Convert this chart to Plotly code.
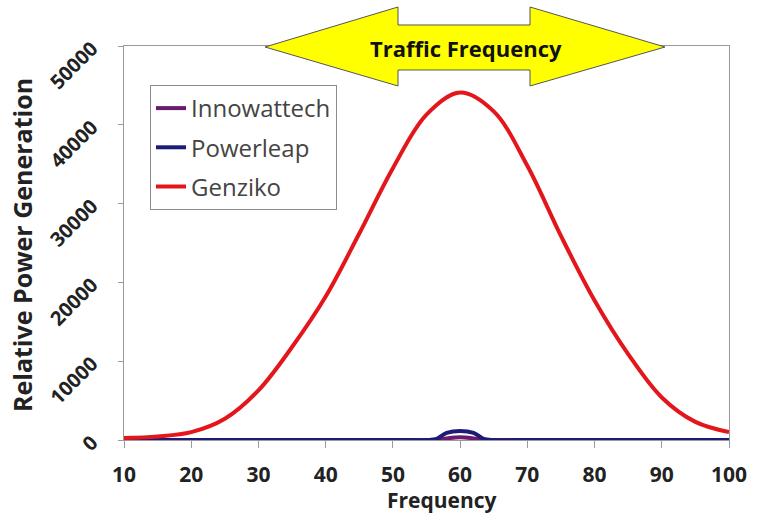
import plotly.graph_objects as go

# ---- data ----
freq = [10, 15, 20, 25, 30, 35, 40, 45, 50, 55, 60, 65, 70, 75, 80, 85, 90, 95, 100]
genziko = [250, 450, 1000, 2700, 6300, 11800, 18200, 26200, 34500, 41300, 44100,
           41700, 34800, 25900, 17700, 10900, 5400, 2300, 1000]

freq_fine = [10, 20, 30, 40, 50, 55, 56.5, 58, 60, 62, 63.5, 65, 70, 80, 90, 100]
powerleap = [0, 0, 0, 0, 0, 0, 150, 900, 1150, 900, 150, 0, 0, 0, 0, 0]
innowattech = [0, 0, 0, 0, 0, 0, 0, 200, 350, 200, 0, 0, 0, 0, 0, 0]

series_names = ["Innowattech", "Powerleap", "Genziko"]
series_colors = ["#6a1b6e", "#1c1c78", "#e3161c"]

x_ticks = [10, 20, 30, 40, 50, 60, 70, 80, 90, 100]
y_ticks = [0, 10000, 20000, 30000, 40000, 50000]

# ---- layout geometry (pixels) ----
W, H = 757, 516
L, R, T, B = 124, 28, 46, 76
PW, PH = W - L - R, H - T - B
FONT = "Open Sans"


def px(x, y):
    return (x - L) / PW, (H - B - y) / PH


fig = go.Figure()
xs = [freq_fine, freq_fine, freq]
ys = [innowattech, powerleap, genziko]
for i, (name, col) in enumerate(zip(series_names, series_colors)):
    fig.add_trace(go.Scatter(
        x=xs[i], y=ys[i], name=name, mode="lines",
        line=dict(color=col, width=4, shape="spline", smoothing=1.0),
        legendgroup=name, cliponaxis=False,
    ))

# yellow double arrow
pts = [(265, 47), (398, 7), (398, 25), (530, 25), (530, 7), (665, 47),
       (530, 86), (530, 70), (398, 70), (398, 86)]
path = "M " + " L ".join(f"{px(a, b)[0]:.4f},{px(a, b)[1]:.4f}" for a, b in pts) + " Z"
fig.add_shape(type="path", path=path, xref="paper", yref="paper",
              fillcolor="#ffff00", line=dict(color="#555555", width=1))

tx, ty = px(466, 48)
fig.add_annotation(x=tx, y=ty, xref="paper", yref="paper", text="<b>Traffic Frequency</b>",
                   showarrow=False, xanchor="center", yanchor="middle",
                   font=dict(family=FONT, size=22, color="#111111"))

# axis titles
ax, ay = px(442, 500)
fig.add_annotation(x=ax, y=ay, xref="paper", yref="paper", text="<b>Frequency</b>",
                   showarrow=False, xanchor="center", yanchor="middle",
                   font=dict(family=FONT, size=21, color="#222222"))
ax, ay = px(22, 245)
fig.add_annotation(x=ax, y=ay, xref="paper", yref="paper", text="<b>Relative Power Generation</b>",
                   showarrow=False, xanchor="center", yanchor="middle", textangle=-90,
                   font=dict(family=FONT, size=25, color="#222222"))

fig.update_layout(
    width=W, height=H,
    margin=dict(l=L, r=R, t=T, b=B, autoexpand=False),
    plot_bgcolor="white", paper_bgcolor="white",
    font=dict(family=FONT, color="#333333"),
    showlegend=True,
    legend=dict(
        x=px(150, 85)[0], y=px(150, 85)[1], xanchor="left", yanchor="top",
        bgcolor="white", bordercolor="#8c8c8c", borderwidth=1,
        font=dict(family=FONT, size=24, color="#444444"),
        tracegroupgap=5, traceorder="grouped",
    ),
    xaxis=dict(
        range=[10, 100], tickvals=x_ticks, ticktext=[f"<b>{v}</b>" for v in x_ticks],
        showgrid=False, zeroline=False, showline=True, linecolor="#9a9a9a", mirror=True,
        ticks="outside", ticklen=7, tickcolor="#9a9a9a", ticklabelstandoff=9,
        tickfont=dict(family=FONT, size=21, color="#222222"),
    ),
    yaxis=dict(
        range=[0, 50000], tickvals=y_ticks, ticktext=[f"<b>{v}</b>" for v in y_ticks],
        showgrid=False, zeroline=False, showline=True, linecolor="#9a9a9a", mirror=True,
        ticks="outside", ticklen=5, tickcolor="#9a9a9a", tickangle=-45, ticklabelstandoff=22,
        tickfont=dict(family=FONT, size=20, color="#222222"),
    ),
)

fig.write_html("out.html", config={"displayModeBar": False},
               post_script="document.body.style.margin='0';")
